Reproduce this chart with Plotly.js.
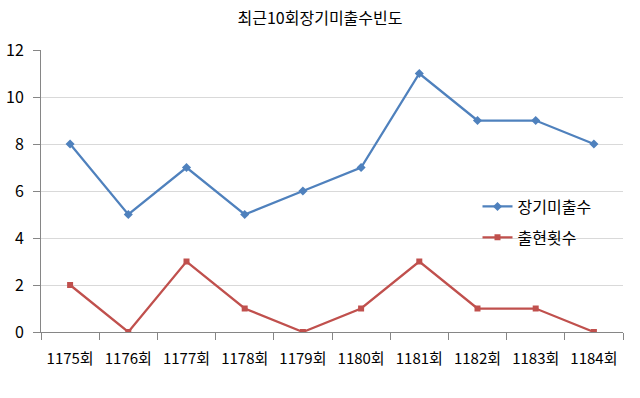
<!DOCTYPE html>
<html>
<head>
<meta charset="utf-8">
<script src="https://cdn.plot.ly/plotly-3.0.1.min.js"></script>
<style>html,body{margin:0;padding:0;background:#fff;}#chart{width:640px;height:398px;}</style>
</head>
<body>
<div id="chart"></div>
<script>
const categories = ["1175회","1176회","1177회","1178회","1179회","1180회","1181회","1182회","1183회","1184회"];
const seriesNames = ["장기미출수","출현횟수"];
const longAbsent = [8,5,7,5,6,7,11,9,9,8];
const appearances = [2,0,3,1,0,1,3,1,1,0];
const yTicks = [0,2,4,6,8,10,12];

const font = "'Noto Sans CJK KR', 'Noto Sans', sans-serif";
const traces = [
  {x: categories, y: longAbsent, name: seriesNames[0], legendgroup: "g1", type: "scatter", mode: "lines+markers",
   line: {color: "#4F81BD", width: 2.25}, marker: {symbol: "diamond", size: 7, color: "#4F81BD"}},
  {x: categories, y: appearances, name: seriesNames[1], legendgroup: "g2", type: "scatter", mode: "lines+markers",
   line: {color: "#C0504D", width: 2.25}, marker: {symbol: "square", size: 6, color: "#C0504D"}}
];
const layout = {
  width: 640, height: 398,
  margin: {l: 41, r: 17, t: 50, b: 66},
  paper_bgcolor: "#fff", plot_bgcolor: "rgba(0,0,0,0)",
  font: {family: font, size: 16, color: "#000"},
  title: {text: "최근10회장기미출수빈도", font: {family: font, size: 16, color: "#000"}, x: 0.5, xanchor: "center", y: 0.955, yanchor: "middle"},
  showlegend: true,
  legend: {x: 0.75, y: 0.505, xanchor: "left", yanchor: "top", bgcolor: "rgba(0,0,0,0)",
           font: {family: font, size: 16, color: "#000"}, tracegroupgap: 7, itemwidth: 30},
  xaxis: {type: "category", range: [-0.5, categories.length - 0.5], tickson: "boundaries", ticks: "outside", ticklen: 7, tickcolor: "#868686",
          showline: true, linecolor: "#868686", linewidth: 1, showgrid: false, automargin: false,
          ticklabelstandoff: 13, tickangle: 0,
          tickfont: {family: font, size: 15, color: "#000"}, fixedrange: true},
  yaxis: {range: [0, 12], tickvals: yTicks, ticks: "outside", ticklen: 7, tickcolor: "#868686",
          showline: true, linecolor: "#868686", linewidth: 1, showgrid: true, gridcolor: "#D9D9D9", gridwidth: 1,
          zeroline: false, automargin: false, ticklabelstandoff: 6,
          tickfont: {family: font, size: 16, color: "#000"}, fixedrange: true}
};
Plotly.newPlot("chart", traces, layout, {displayModeBar: false, staticPlot: true});
</script>
</body>
</html>
